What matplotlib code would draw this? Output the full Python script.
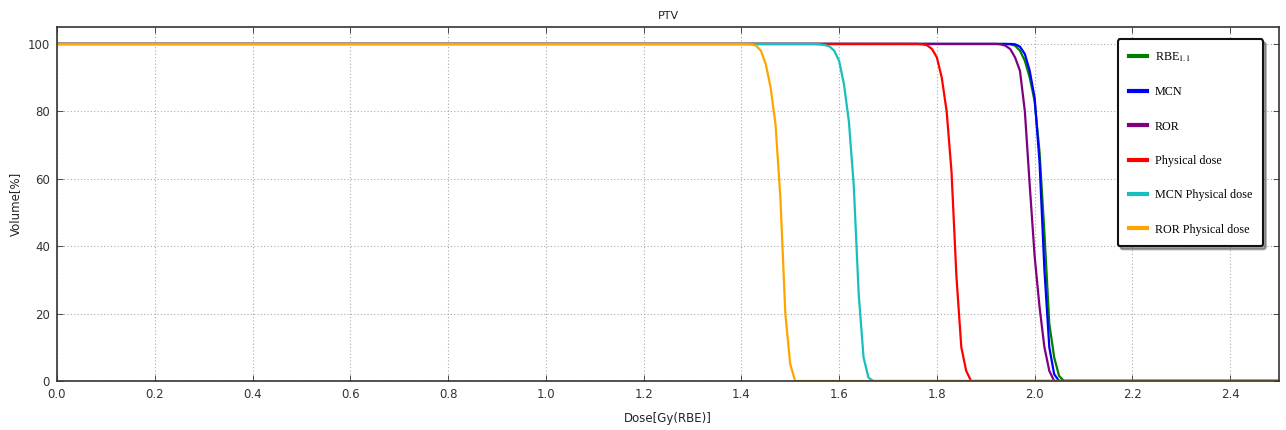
import matplotlib
matplotlib.use("Agg")
import matplotlib.pyplot as plt

# ---- data ----
rbe_dose = [0, 1.94, 1.95, 1.96, 1.97, 1.98, 1.99, 2.00, 2.01, 2.02, 2.03, 2.04, 2.05, 2.06, 2.5]
rbe_vol  = [100, 100, 99.9, 99.5, 98, 95, 90, 83, 68, 44, 17, 7, 1.5, 0, 0]

mcn_dose = [0, 1.95, 1.96, 1.97, 1.98, 1.99, 2.00, 2.01, 2.02, 2.03, 2.04, 2.05, 2.5]
mcn_vol  = [100, 100, 99.9, 99.2, 97, 92, 84, 65, 33, 10, 2, 0, 0]

ror_dose = [0, 1.92, 1.93, 1.94, 1.95, 1.96, 1.97, 1.98, 1.99, 2.00, 2.01, 2.02, 2.03, 2.04, 2.5]
ror_vol  = [100, 100, 99.9, 99.5, 98.5, 96, 92, 80, 58, 37, 22, 10, 3, 0, 0]

phys_dose = [0, 1.76, 1.77, 1.78, 1.79, 1.80, 1.81, 1.82, 1.83, 1.84, 1.85, 1.86, 1.87, 2.5]
phys_vol  = [100, 100, 99.9, 99.6, 98.5, 96, 90, 80, 62, 31, 10, 3, 0, 0]

mcn_phys_dose = [0, 1.55, 1.56, 1.57, 1.58, 1.59, 1.60, 1.61, 1.62, 1.63, 1.64, 1.65, 1.66, 1.67, 2.5]
mcn_phys_vol  = [100, 100, 99.9, 99.7, 99.3, 98, 95, 88, 77, 58, 26, 7, 1, 0, 0]

ror_phys_dose = [0, 1.41, 1.42, 1.43, 1.44, 1.45, 1.46, 1.47, 1.48, 1.49, 1.50, 1.51, 2.5]
ror_phys_vol  = [100, 100, 99.9, 99.5, 98, 94, 87, 76, 54, 20, 5, 0, 0]

labels = [r"RBE$_{1.1}$", "MCN", "ROR", "Physical dose", "MCN Physical dose", "ROR Physical dose"]
colors = ["green", "blue", "purple", "red", "#17BFBF", "orange"]

x_ticks = [0.0, 0.2, 0.4, 0.6, 0.8, 1.0, 1.2, 1.4, 1.6, 1.8, 2.0, 2.2, 2.4]
y_ticks = [0, 20, 40, 60, 80, 100]

# ---- figure ----
plt.rcParams["mathtext.fontset"] = "stix"
fig = plt.figure(figsize=(12.86, 4.30), dpi=100)
ax = fig.add_axes([0.0443, 0.114, 0.9503, 0.823])

series = [
    (rbe_dose, rbe_vol),
    (mcn_dose, mcn_vol),
    (ror_dose, ror_vol),
    (phys_dose, phys_vol),
    (mcn_phys_dose, mcn_phys_vol),
    (ror_phys_dose, ror_phys_vol),
]
for (d, v), lab, c in zip(series, labels, colors):
    ax.plot(d, v, color=c, lw=1.6, label=lab)

ax.set_xlim(0, 2.5)
ax.set_ylim(0, 105)
ax.set_xticks(x_ticks)
ax.set_yticks(y_ticks)
ax.set_xticklabels([f"{t:.1f}" for t in x_ticks])
ax.tick_params(direction="in", top=True, right=True, labelsize=8.5, colors="#333333",
               length=4, width=0.6, pad=5)
for s in ax.spines.values():
    s.set_color("#333333")
    s.set_linewidth(1.2)
ax.grid(True, linestyle=(0, (1, 2)), color="#aaaaaa", linewidth=0.8)
ax.set_axisbelow(True)

ax.set_xlabel("Dose[Gy(RBE)]", fontsize=8.5, color="#222222", labelpad=8)
ax.set_ylabel("Volume[%]", fontsize=8.5, color="#222222", labelpad=4)
ax.set_title("PTV", fontsize=8, color="#222222", pad=6)

leg = ax.legend(loc="upper left", bbox_to_anchor=(0.868, 0.965),
                prop={"family": "Liberation Serif", "size": 8.7},
                labelspacing=1.85, handlelength=1.5, handletextpad=0.66,
                borderpad=0.9, borderaxespad=0, fancybox=True, shadow=True,
                frameon=True, framealpha=1)
for h in leg.get_lines():
    h.set_linewidth(3)
fr = leg.get_frame()
fr.set_edgecolor("#111111")
fr.set_linewidth(1.5)

fig.savefig("out.png", dpi=100)
